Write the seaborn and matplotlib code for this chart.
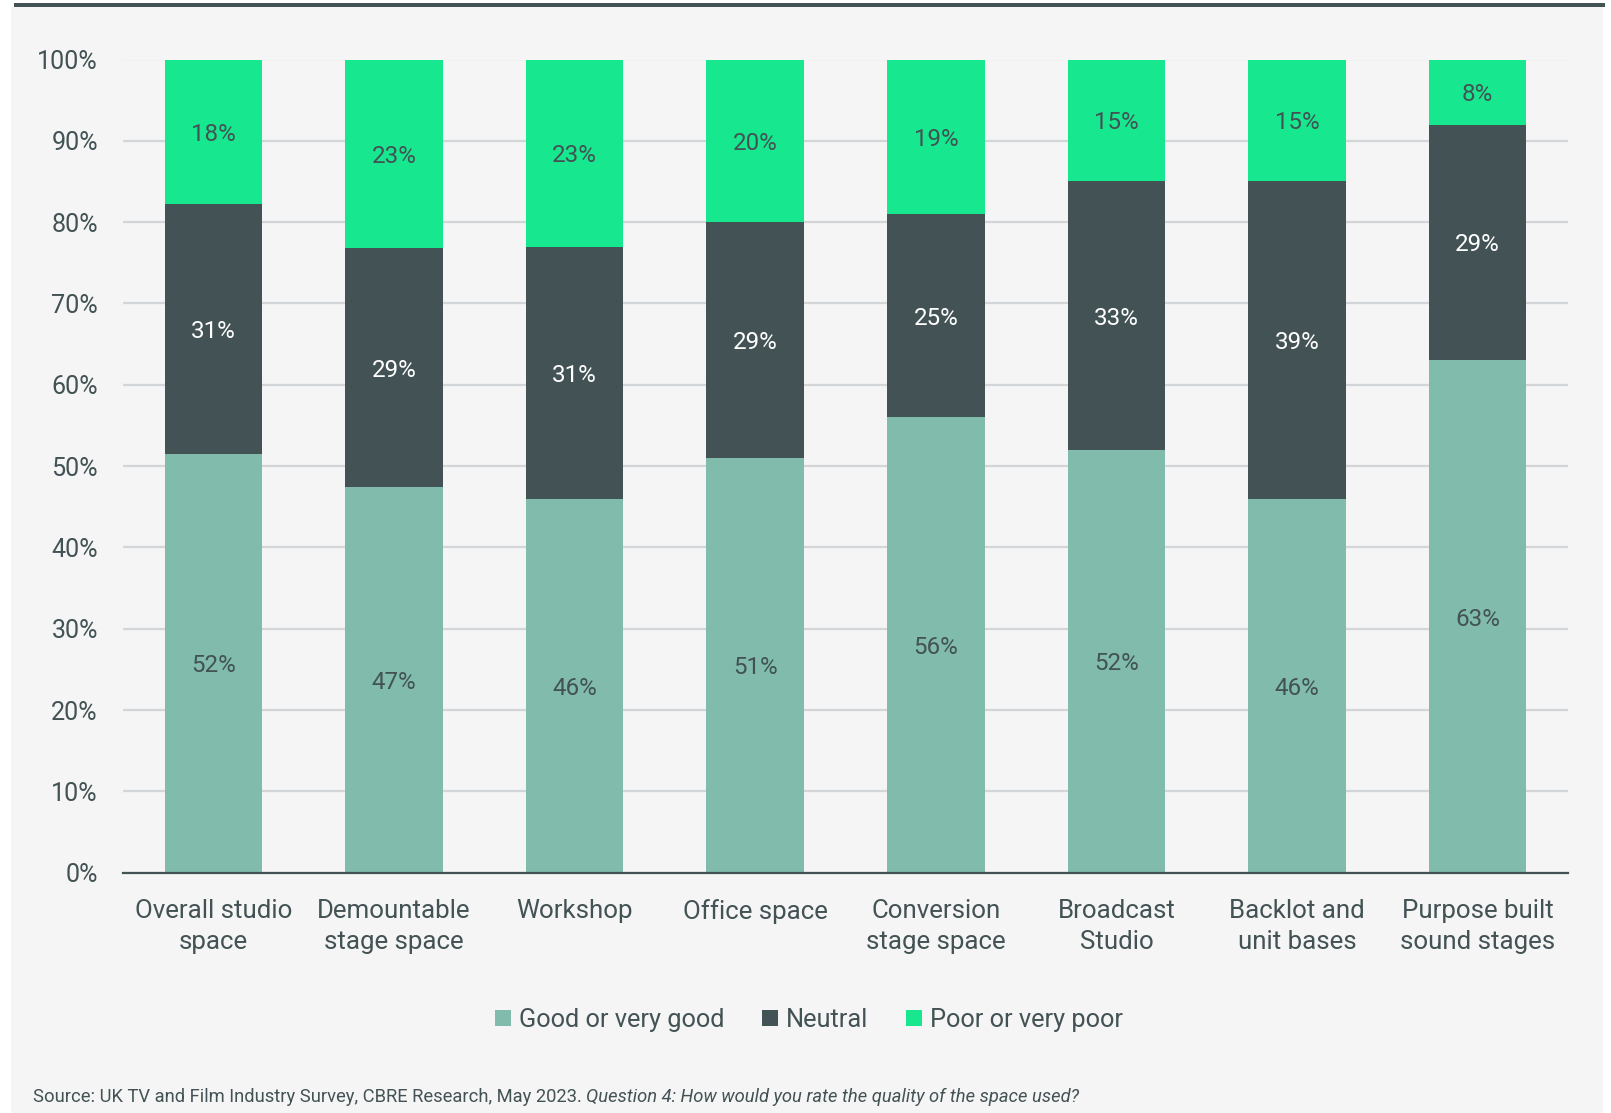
import matplotlib
matplotlib.use("Agg")
import matplotlib.pyplot as plt
from matplotlib.patches import Rectangle, Patch
import numpy as np
import pandas as pd
import seaborn as sns

categories = ["Overall studio\nspace", "Demountable\nstage space", "Workshop",
              "Office space", "Conversion\nstage space", "Broadcast\nStudio",
              "Backlot and\nunit bases", "Purpose built\nsound stages"]
good = [52, 47, 46, 51, 56, 52, 46, 63]
neutral = [31, 29, 31, 29, 25, 33, 39, 29]
poor = [18, 23, 23, 20, 19, 15, 15, 8]
series_names = ["Good or very good", "Neutral", "Poor or very poor"]

C_GOOD = "#80bbac"
C_NEUTRAL = "#435254"
C_POOR = "#17e88f"
TXT = "#435254"
PANEL = "#f5f5f5"

sns.set_theme(style="white")
plt.rcParams["font.family"] = ["Roboto", "DejaVu Sans"]

df = pd.DataFrame({"cat": categories, "good": good, "neutral": neutral, "poor": poor})
total = df[["good", "neutral", "poor"]].sum(axis=1)
# each bar is stacked to 100% of its responses
df["s_good"] = df["good"] / total * 100
df["s_neutral"] = df["neutral"] / total * 100
df["s_poor"] = df["poor"] / total * 100
df["c_good"] = df["s_good"]
df["c_neutral"] = df["s_good"] + df["s_neutral"]
df["c_poor"] = df["c_neutral"] + df["s_poor"]

fig = plt.figure(figsize=(16.11, 11.13), dpi=100)
fig.patch.set_facecolor("white")
fig.patches.append(Rectangle((11 / 1611, 0), (1603 - 11) / 1611, 1 - 7 / 1113,
                             transform=fig.transFigure, facecolor=PANEL,
                             edgecolor="none", zorder=-2))
fig.patches.append(Rectangle((14 / 1611, 1 - 7 / 1113), (1605 - 14) / 1611, 4 / 1113,
                             transform=fig.transFigure, facecolor=C_NEUTRAL,
                             edgecolor="none", zorder=-1))

ax = fig.add_axes([123 / 1611, 1 - 872.7 / 1113, (1568 - 123) / 1611, (872.7 - 59.5) / 1113])
ax.set_facecolor("none")

# cumulative layers, drawn back to front
for col, color in [("c_poor", C_POOR), ("c_neutral", C_NEUTRAL), ("c_good", C_GOOD)]:
    sns.barplot(data=df, x="cat", y=col, color=color, saturation=1, width=0.54,
                ax=ax, zorder=3, linewidth=0)

x = np.arange(len(categories))
LBL = 17.4
for i in range(len(categories)):
    ax.text(x[i], df["s_good"][i] / 2, f"{good[i]}%", ha="center", va="center_baseline",
            fontsize=LBL, color=TXT, zorder=5)
    ax.text(x[i], df["c_good"][i] + df["s_neutral"][i] / 2, f"{neutral[i]}%",
            ha="center", va="center_baseline", fontsize=LBL, color="white", zorder=5)
    ax.text(x[i], df["c_neutral"][i] + df["s_poor"][i] / 2, f"{poor[i]}%",
            ha="center", va="center_baseline", fontsize=LBL, color=TXT, zorder=5)

ax.set_xlim(-0.5, len(categories) - 0.5)
ax.set_ylim(0, 100)
ax.set_yticks(range(0, 101, 10))
ax.set_yticklabels([f"{v}%" for v in range(0, 101, 10)])
ax.yaxis.grid(True, color="#d2d6d8", linewidth=1.6, zorder=1)
ax.set_axisbelow(True)
ax.set_xlabel("")
ax.set_ylabel("")
for s in ["top", "right", "left"]:
    ax.spines[s].set_visible(False)
ax.spines["bottom"].set_color(C_NEUTRAL)
ax.spines["bottom"].set_linewidth(1.6)
ax.spines["bottom"].set_zorder(6)
ax.tick_params(axis="y", length=0, pad=18, labelsize=18.1, labelcolor=TXT)
ax.tick_params(axis="x", length=0, pad=19, labelsize=18.6, labelcolor=TXT)
for lab in ax.get_xticklabels():
    lab.set_linespacing(1.38)

handles = [Patch(facecolor=c, edgecolor="none") for c in (C_GOOD, C_NEUTRAL, C_POOR)]
leg = fig.legend(handles, series_names, loc="center", bbox_to_anchor=(809 / 1611, 1 - 1020 / 1113),
                 ncol=3, frameon=False, fontsize=18.3, handlelength=0.62, handleheight=0.62,
                 handletextpad=0.3, columnspacing=1.5)
for t in leg.get_texts():
    t.set_color(TXT)

src = fig.text(33 / 1611, 1 - 1097 / 1113,
               "Source: UK TV and Film Industry Survey, CBRE Research, May 2023. ",
               fontsize=13.2, color=TXT, ha="left", va="center")
fig.canvas.draw()
bb = src.get_window_extent()
fig.text(bb.x1 / fig.bbox.width, 1 - 1097 / 1113,
         "Question 4: How would you rate the quality of the space used?",
         fontsize=13.2, color=TXT, ha="left", va="center", style="italic")

fig.savefig("out.png", dpi=100, facecolor=fig.get_facecolor())
